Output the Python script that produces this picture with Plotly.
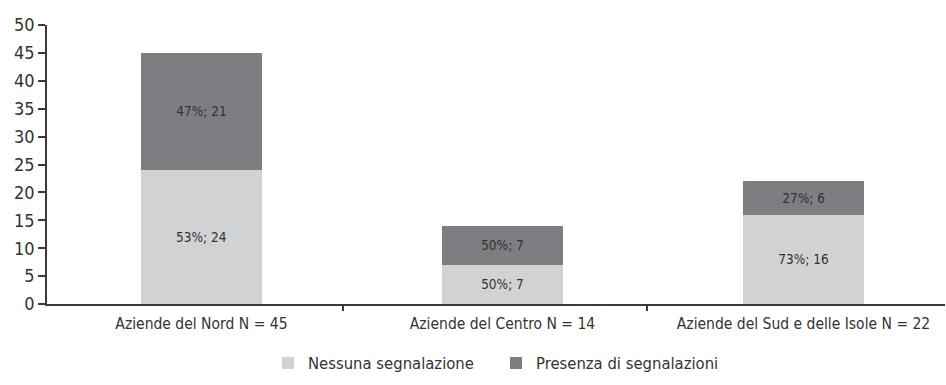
import plotly.graph_objects as go

# Categories and counts per group
categories = ["Aziende del Nord N = 45", "Aziende del Centro N = 14", "Aziende del Sud e delle Isole N = 22"]
nessuna = [24, 7, 16]
presenza = [21, 7, 6]
nessuna_pct = [53, 50, 73]
presenza_pct = [47, 50, 27]
y_ticks = [0, 5, 10, 15, 20, 25, 30, 35, 40, 45, 50]
boundary_ticks = [0.47, 1.48]

FONT = "Liberation Sans Narrow, Arial Narrow, DejaVu Sans Condensed, sans-serif"
LIGHT = "#d1d2d4"
DARK = "#7d7e82"
TEXT = "#333333"
AXIS = "#3a3a3a"

xpos = list(range(len(categories)))

fig = go.Figure()
fig.add_trace(go.Bar(
    x=xpos, y=nessuna, name="Nessuna segnalazione",
    marker=dict(color=LIGHT, line=dict(width=0)),
    text=[f"{p}%; {v}" for p, v in zip(nessuna_pct, nessuna)],
    textposition="inside", insidetextanchor="middle",
    textfont=dict(family=FONT, size=13.5, color=TEXT),
    width=0.4,
))
fig.add_trace(go.Bar(
    x=xpos, y=presenza, name="Presenza di segnalazioni",
    marker=dict(color=DARK, line=dict(width=0)),
    text=[f"{p}%; {v}" for p, v in zip(presenza_pct, presenza)],
    textposition="inside", insidetextanchor="middle",
    textfont=dict(family=FONT, size=13.5, color=TEXT),
    width=0.4,
))

fig.update_layout(
    barmode="stack",
    width=946, height=385,
    margin=dict(l=47, r=1, t=25, b=81),
    paper_bgcolor="white", plot_bgcolor="white",
    font=dict(family=FONT, size=16, color=TEXT),
    legend=dict(
        orientation="h", x=0.5, xanchor="center", y=-0.275, yanchor="bottom",
        font=dict(family=FONT, size=16.5, color=TEXT),
        traceorder="normal", entrywidth=183, itemwidth=30,
        tracegroupgap=0,
    ),
)
fig.update_xaxes(
    range=[-0.513, 2.47],
    tickmode="array", tickvals=xpos, ticktext=categories,
    ticks="", ticklabelstandoff=4,
    showline=True, linecolor=AXIS, linewidth=2,
    showgrid=False, zeroline=False,
    tickfont=dict(family=FONT, size=15.5, color=TEXT),
    minor=dict(tickmode="array", tickvals=boundary_ticks, ticks="outside",
               ticklen=5, tickcolor=AXIS, tickwidth=2, showgrid=False),
)
fig.update_yaxes(
    range=[0, 50], tickvals=y_ticks,
    ticks="outside", ticklen=7, tickcolor=AXIS, tickwidth=1.5,
    showline=True, linecolor=AXIS, linewidth=1.5,
    showgrid=False, zeroline=False,
    tickfont=dict(family=FONT, size=18, color=TEXT),
)

fig.write_html("out.html")
